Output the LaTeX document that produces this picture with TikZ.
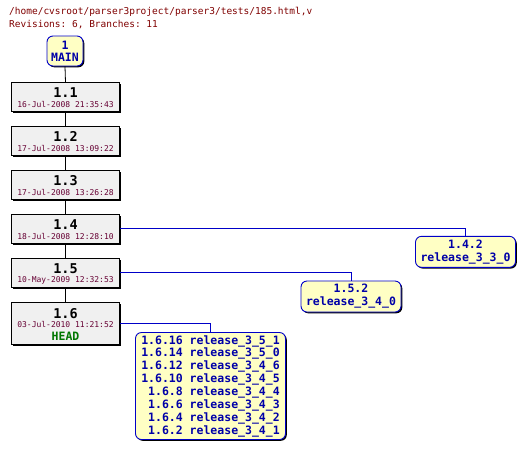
\documentclass[tikz,border=0pt]{standalone}
\usepackage{fontspec}
\setmonofont{DejaVu Sans Mono}
\usetikzlibrary{shadows}
\definecolor{titlered}{HTML}{800000}
\definecolor{datered}{HTML}{660033}
\definecolor{txtblue}{HTML}{0000A8}
\definecolor{lineblue}{HTML}{0000C8}
\definecolor{brfill}{HTML}{FFFFC4}
\definecolor{revfill}{HTML}{F0F0F0}
\definecolor{headgreen}{HTML}{007700}
\newcommand\titlefont{\fontsize{9.5}{12.5}\selectfont\ttfamily}
\newcommand\revfont{\fontsize{13.5}{13.5}\selectfont\ttfamily\bfseries}
\newcommand\datefont{\fontsize{8}{8}\selectfont\ttfamily}
\newcommand\brfont{\fontsize{11.5}{12.86}\selectfont\ttfamily\bfseries}
\tikzset{
  revbox/.style={draw=black, fill=revfill, line width=0.9pt, minimum width=108pt, inner sep=0pt,
    drop shadow={shadow xshift=1.3pt, shadow yshift=-1.3pt, fill=black, opacity=1}},
  brbox/.style={draw=lineblue, fill=brfill, line width=0.9pt, rounded corners=6pt, inner sep=0pt,
    drop shadow={shadow xshift=1.3pt, shadow yshift=-1.3pt, fill=black, opacity=1}},
  revnum/.style={font=\revfont, text=black, inner sep=0pt},
  revdate/.style={font=\datefont, text=datered, inner sep=0pt},
  brtext/.style={font=\brfont, text=txtblue, inner sep=0pt, align=center},
  trunk/.style={draw=black, line width=0.8pt},
  branch/.style={draw=lineblue, line width=0.8pt},
}
\begin{document}
\begin{tikzpicture}[x=1pt,y=-1pt]
\useasboundingbox[fill=white] (0,0) rectangle (526,451);
% title
\node[anchor=west, inner sep=0pt, font=\titlefont, text=titlered] (t1) at (9,12) {/home/cvsroot/parser3project/parser3/tests/185.html,v};
\node[anchor=west, inner sep=0pt, font=\titlefont, text=titlered] (t2) at (9,24.5) {Revisions: 6, Branches: 11};
% MAIN
\node[brbox, minimum width=36pt, minimum height=30pt] (main) at (65,51) {};
\node[brtext, font=\fontsize{11.5}{12}\selectfont\ttfamily\bfseries] (mainl) at (main.center) {1\\MAIN};
% revisions
\foreach \n/\y in {11/97, 12/141, 13/185, 14/229, 15/273}{
  \node[revbox, minimum height=28.5pt] (r\n) at (65.5,\y) {};
}
\node[revnum] (r11n) at (65.5,92.3) {1.1};
\node[revdate] (r11d) at (65.5,104.3) {16-Jul-2008 21:35:43};
\node[revnum] (r12n) at (65.5,136.3) {1.2};
\node[revdate] (r12d) at (65.5,148.3) {17-Jul-2008 13:09:22};
\node[revnum] (r13n) at (65.5,180.3) {1.3};
\node[revdate] (r13d) at (65.5,192.3) {17-Jul-2008 13:26:28};
\node[revnum] (r14n) at (65.5,224.3) {1.4};
\node[revdate] (r14d) at (65.5,236.3) {18-Jul-2008 12:28:10};
\node[revnum] (r15n) at (65.5,268.3) {1.5};
\node[revdate] (r15d) at (65.5,280.3) {10-May-2009 12:32:53};
\node[revbox, minimum height=42pt] (r16) at (65.5,323.2) {};
\node[revnum] (r16n) at (65.5,313.5) {1.6};
\node[revdate] (r16d) at (65.5,324.8) {03-Jul-2010 11:21:52};
\node[inner sep=0pt, font=\brfont, text=headgreen] (r16h) at (65.5,336.2) {HEAD};
% trunk
\draw[trunk] (main.south) -- (r11.north);
\draw[trunk] (r11.south) -- (r12.north);
\draw[trunk] (r12.south) -- (r13.north);
\draw[trunk] (r13.south) -- (r14.north);
\draw[trunk] (r14.south) -- (r15.north);
\draw[trunk] (r15.south) -- (r16.north);
% branch boxes
\node[brbox, minimum width=100pt, minimum height=31pt] (b142) at (465.5,251.8) {};
\node[brtext] (b142l) at (b142.center) {1.4.2\\release\_3\_3\_0};
\node[brbox, minimum width=100pt, minimum height=31pt] (b152) at (351,296.5) {};
\node[brtext] (b152l) at (b152.center) {1.5.2\\release\_3\_4\_0};
\node[brbox, minimum width=150pt, minimum height=107pt] (b16) at (210.5,386) {};
\node[brtext, align=left] (b16l) at (b16.center) {1.6.16 release\_3\_5\_1\\1.6.14 release\_3\_5\_0\\1.6.12 release\_3\_4\_6\\1.6.10 release\_3\_4\_5\\\hphantom{1}1.6.8 release\_3\_4\_4\\\hphantom{1}1.6.6 release\_3\_4\_3\\\hphantom{1}1.6.4 release\_3\_4\_2\\\hphantom{1}1.6.2 release\_3\_4\_1};
% branch connectors
\draw[branch] (r14.east |- 0,228.5) -| (b142.north);
\draw[branch] (r15.east |- 0,272.5) -| (b152.north);
\draw[branch] (r16.east |- 0,323.5) -| (b16.north);
\end{tikzpicture}
\end{document}
